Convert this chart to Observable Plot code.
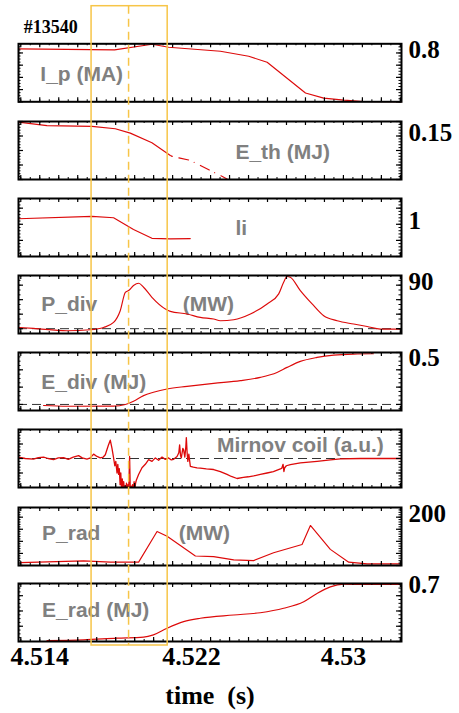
<!DOCTYPE html>
<html><head><meta charset="utf-8">
<script src="https://cdn.jsdelivr.net/npm/d3@7"></script>
<script src="https://cdn.jsdelivr.net/npm/@observablehq/plot@0.6"></script>
<style>
body{margin:0;background:#fff}
#fig{position:relative;width:459px;height:713px;overflow:hidden;background:#fff}
#fig svg{position:absolute;left:0;background:transparent !important;overflow:visible}
</style></head><body><div id="fig"></div>
<script>
// ---------- data ----------
const shot = "#13540";
const xAxisTitle = "time  (s)";
const xDomain = [4.51288, 4.53306];
const xTickValues = [4.514, 4.522, 4.530];
const xTickLabels = ["4.514", "4.522", "4.53"];
const boxTimes = [4.51673, 4.52074];
const boxMid = 4.51868;

const ipTime  = [4.51288, 4.51794, 4.51992, 4.52079, 4.52352, 4.52501, 4.52598, 4.52800, 4.52896, 4.53002, 4.53107, 4.53306];
const ipValue = [0.868, 0.851, 0.943, 0.894, 0.828, 0.746, 0.647, 0.143, 0.061, 0.028, 0.005, 0.0];

const ethTime  = [4.51288, 4.51438, 4.51675, 4.51798, 4.51877, 4.51991, 4.52088, 4.52097];
const ethValue = [0.198, 0.186, 0.183, 0.175, 0.160, 0.127, 0.083, 0.080];
const ethDashTime  = [4.52097, 4.52193, 4.52387];
const ethDashValue = [0.080, 0.066, 0.002];

const liTime  = [4.51288, 4.51675, 4.51789, 4.51894, 4.51991, 4.52088, 4.52193];
const liValue = [1.086, 1.122, 1.102, 0.919, 0.782, 0.773, 0.778];

const pdivTime  = [4.51288, 4.51367, 4.51543, 4.51666, 4.51736, 4.51789, 4.51824, 4.51851, 4.51868, 4.51894, 4.51921, 4.51947, 4.51991, 4.52062, 4.52088, 4.52176, 4.52246, 4.52316, 4.52352, 4.52422, 4.52510, 4.52598, 4.52659, 4.52685, 4.52703, 4.52720, 4.52773, 4.52835, 4.52896, 4.52967, 4.53054, 4.53125, 4.53195, 4.53300];
const pdivValue = [2.5, 0.5, -4.4, -2.3, 2.5, 12.9, 37.2, 75.3, 78.8, 89.2, 94, 85.7, 64.9, 40.8, 35.8, 30.4, 23.3, 20, 16.4, 18.5, 30.4, 51.2, 72, 96.1, 108, 106.5, 78.8, 51.2, 26.8, 16.4, 9.6, 4.6, -0.8, -0.8];

const edivTime  = [4.51420, 4.51543, 4.51789, 4.51851, 4.51894, 4.51947, 4.51999, 4.52071, 4.52176, 4.52316, 4.52457, 4.52562, 4.52650, 4.52703, 4.52773, 4.52861, 4.52949, 4.53054, 4.53158];
const edivValue = [-0.012, -0.021, -0.020, -0.001, 0.037, 0.102, 0.140, 0.179, 0.209, 0.244, 0.275, 0.313, 0.370, 0.428, 0.497, 0.543, 0.570, 0.582, 0.585];

const mirTime = [4.512882, 4.513236, 4.513673, 4.513921, 4.514200, 4.514448, 4.514727, 4.514975, 4.515255, 4.515502,
  4.515766, 4.516045, 4.516240, 4.516488, 4.516662, 4.516836, 4.517015, 4.517189, 4.517347, 4.517453,
  4.517611, 4.517716, 4.517806, 4.517890, 4.517954, 4.518006, 4.518070, 4.518112, 4.518154, 4.518191,
  4.518233, 4.518270, 4.518307, 4.518349, 4.518386, 4.518423, 4.518460, 4.518497, 4.518534, 4.518570,
  4.518613, 4.518650, 4.518686, 4.518734, 4.518771, 4.518813, 4.518850, 4.518887, 4.518929, 4.518971,
  4.519008, 4.519050, 4.519087, 4.519208, 4.519387, 4.519561, 4.519735, 4.519915, 4.520089, 4.520263,
  4.520442, 4.520616, 4.520790, 4.520932, 4.521053, 4.521233, 4.521327, 4.521370, 4.521417, 4.521459,
  4.521538, 4.521580, 4.521644, 4.521696, 4.521723, 4.521765, 4.521802, 4.521855, 4.521934, 4.522092,
  4.522287, 4.522461, 4.522777, 4.523162, 4.523515, 4.523868, 4.524095, 4.524395, 4.524728, 4.524991,
  4.525271, 4.525624, 4.525977, 4.526309, 4.526678, 4.526757, 4.526820, 4.526863, 4.526905, 4.526994,
  4.527205, 4.527732, 4.528613, 4.529314, 4.529841, 4.530895, 4.531950, 4.533004];
const mirValue = [0.05, 0.0, -0.02, 0.03, 0.05, 0.0, -0.04, 0.02, 0.03, -0.03,
  0.05, 0.10, 0.02, -0.02, 0.02, 0.15, 0.07, 0.02, 0.05, 0.13,
  0.45, 0.63, 0.35, 0.02, -0.25, -0.10, -0.50, -0.20, -0.55, -0.35,
  -0.90, -0.50, -1.05, -0.70, -1.10, -0.80, -1.10, -0.95, -1.10, -0.85,
  -1.10, -0.90, -1.10, 0.07, -1.10, -0.95, -1.10, -0.90, -1.10, -0.80,
  -1.05, -0.85, -0.75, -0.55, -0.32, -0.20, -0.04, -0.10, 0.02, -0.06,
  0.05, -0.03, 0.02, -0.05, -0.03, 0.07, 0.20, 0.47, 0.10, 0.02,
  0.35, 0.30, 0.05, 0.40, 0.72, 0.20, -0.10, 0.15, -0.27, -0.30,
  -0.32, -0.33, -0.36, -0.38, -0.45, -0.55, -0.62, -0.69, -0.65, -0.63,
  -0.60, -0.55, -0.50, -0.45, -0.36, -0.33, -0.20, -0.45, -0.32, -0.25,
  -0.21, -0.15, -0.10, -0.05, -0.01, 0.0, 0.0, 0.0];

const pradTime  = [4.51297, 4.51631, 4.51772, 4.51921, 4.52018, 4.52071, 4.52220, 4.52316, 4.52422, 4.52527, 4.52632, 4.52782, 4.52826, 4.52931, 4.53028, 4.53125, 4.53300];
const pradValue = [12.2, 19.1, 13.8, 13.8, 141, 121, 39.5, 36.6, 23.2, 20.3, 52.9, 87, 165.6, 66.7, 13.8, 6.9, 6.9];

const eradTime  = [4.51438, 4.51631, 4.51807, 4.51947, 4.51999, 4.52071, 4.52158, 4.52246, 4.52422, 4.52562, 4.52685, 4.52791, 4.52861, 4.52931, 4.53001, 4.53125, 4.53300];
const eradValue = [0.013, 0.022, 0.044, 0.057, 0.087, 0.174, 0.260, 0.305, 0.347, 0.377, 0.435, 0.521, 0.630, 0.716, 0.751, 0.747, 0.747];

// panel labels: [text, time, value]
const ipLabels   = [["I_p (MA)", 4.51403, 0.346]];
const ethLabels  = [["E_th (MJ)", 4.52431, 0.0714]];
const liLabels   = [["li", 4.52431, 0.836]];
const pdivLabels = [["P_div", 4.51408, 37.2], ["(MW)", 4.52153, 37.2]];
const edivLabels = [["E_div (MJ)", 4.51408, 0.179]];
const mirLabels  = [["Mirnov coil (a.u.)", 4.52334, 0.24]];
const pradLabels = [["P_rad", 4.51412, 104.5], ["(MW)", 4.52132, 104.5]];
const eradLabels = [["E_rad (MJ)", 4.51412, 0.325]];

// ---------- layout ----------
const W = 459, ML = 18, MR = 58, FH = 58;
const RED = "#dd0a0a", GOLD = "#f7c548", GRAY = "#808080";
const SERIF = "Liberation Serif, Times New Roman, serif";
const SANS = "Liberation Sans, Arial, sans-serif";
const fig = document.getElementById("fig");

function stepTicks(domain, step) {
  const out = [];
  const n0 = Math.ceil(domain[0] / step - 1e-9), n1 = Math.floor(domain[1] / step + 1e-9);
  for (let i = n0; i <= n1; i++) out.push(+(i * step).toFixed(6));
  return out;
}
function redLine(T, V, opts = {}) {
  return Plot.line(T, {x: T, y: V, stroke: RED, strokeWidth: 1.15, ...opts});
}
function grayText(labels) {
  return Plot.text(labels, {x: d => d[1], y: d => d[2], text: d => d[0], textAnchor: "start", lineAnchor: "bottom",
    fill: GRAY, fontSize: 21, fontWeight: "bold", fontFamily: SANS});
}

function panel({top, yDomain, major, minor, yTick, marks, mt = 14, mb = 8, extra = [], xAxisNull = true}) {
  const fw = W - ML - MR;
  const xMaj = stepTicks(xDomain, 0.001), xMin = stepTicks(xDomain, 0.0005);
  const yMaj = stepTicks(yDomain, major), yMin = stepTicks(yDomain, minor);
  const all = [
    ...marks,
    Plot.ruleX(xMin, {x: d => d, insetBottom: FH - 2, stroke: "#000"}),
    Plot.ruleX(xMin, {x: d => d, insetTop: FH - 2, stroke: "#000"}),
    Plot.ruleX(xMaj, {x: d => d, insetBottom: FH - 4, stroke: "#000", strokeWidth: 1.2}),
    Plot.ruleX(xMaj, {x: d => d, insetTop: FH - 4, stroke: "#000", strokeWidth: 1.2}),
    Plot.ruleY(yMin, {y: d => d, insetRight: fw - 2.5, stroke: "#000"}),
    Plot.ruleY(yMin, {y: d => d, insetLeft: fw - 2.5, stroke: "#000"}),
    Plot.ruleY(yMaj, {y: d => d, insetRight: fw - 5, stroke: "#000", strokeWidth: 1.2}),
    Plot.ruleY(yMaj, {y: d => d, insetLeft: fw - 5, stroke: "#000", strokeWidth: 1.2}),
    Plot.frame({stroke: "#000", strokeWidth: 2})
  ];
  if (yTick) all.push(Plot.axisY({anchor: "right", ticks: [yTick[0]], tickFormat: () => yTick[1], tickSize: 0, tickPadding: 7,
    label: null, fontSize: 25, fontWeight: "bold", fontFamily: SERIF, fill: "#000", dy: -3}));
  all.push(...extra);
  const p = Plot.plot({
    width: W, height: mt + FH + mb, marginLeft: ML, marginRight: MR, marginTop: mt, marginBottom: mb,
    x: xAxisNull ? {domain: xDomain, axis: null} : {domain: xDomain},
    y: {domain: yDomain, axis: null},
    style: {background: "transparent", overflow: "visible"},
    marks: all
  });
  p.style.position = "absolute";
  p.style.left = "0px";
  p.style.top = (top - mt) + "px";
  fig.appendChild(p);
}

const zeroDash = () => Plot.ruleY([0], {stroke: "#333", strokeWidth: 1, strokeDasharray: "9,5"});

// I_p
panel({top: 43.3, mt: 43.3, yDomain: [0, 0.95], major: 0.2, minor: 0.05, yTick: [0.8, "0.8"],
  marks: [grayText(ipLabels), redLine(ipTime, ipValue)],
  extra: [Plot.text([shot], {frameAnchor: "top-left", textAnchor: "start", lineAnchor: "bottom", dx: 5.3, dy: -11,
    text: d => d, fontSize: 18, fontWeight: "bold", fontFamily: SERIF, fill: "#000"})]});
// E_th
panel({top: 121, yDomain: [0, 0.2], major: 0.05, minor: 0.01, yTick: [0.15, "0.15"],
  marks: [grayText(ethLabels), redLine(ethTime, ethValue), redLine(ethDashTime, ethDashValue, {strokeDasharray: "0,7,10,6"})]});
// li
panel({top: 198.3, yDomain: [0.5, 1.4], major: 0.25, minor: 0.05, yTick: [1, "1"],
  marks: [grayText(liLabels), redLine(liTime, liValue)]});
// P_div
panel({top: 275, yDomain: [-10, 110], major: 30, minor: 10, yTick: [90, "90"],
  marks: [zeroDash(), grayText(pdivLabels), redLine(pdivTime, pdivValue, {curve: "monotone-x"})]});
// E_div
panel({top: 351.7, yDomain: [-0.07, 0.6], major: 0.2, minor: 0.05, yTick: [0.5, "0.5"],
  marks: [zeroDash(), grayText(edivLabels), redLine(edivTime, edivValue, {curve: "monotone-x"})]});
// Mirnov
panel({top: 429.3, yDomain: [-1, 1], major: 0.5, minor: 0.1, yTick: null,
  marks: [zeroDash(), grayText(mirLabels), redLine(mirTime, mirValue, {clip: true, strokeWidth: 1.3})]});
// P_rad
panel({top: 506.7, yDomain: [0, 240], major: 50, minor: 10, yTick: [200, "200"],
  marks: [grayText(pradLabels), redLine(pradTime, pradValue)]});
// E_rad
panel({top: 583.3, mb: 713 - 583.3 - FH, yDomain: [0, 0.76], major: 0.2, minor: 0.05, yTick: [0.7, "0.7"], xAxisNull: false,
  marks: [grayText(eradLabels), redLine(eradTime, eradValue, {curve: "monotone-x"})],
  extra: [
    Plot.axisX({anchor: "bottom", ticks: xTickValues, tickFormat: d => xTickLabels[xTickValues.indexOf(d)], tickSize: 0, tickPadding: 5,
      label: null, fontSize: 26, fontWeight: "bold", fontFamily: SERIF, fill: "#000"}),
    Plot.text([xAxisTitle], {frameAnchor: "bottom", lineAnchor: "bottom", dy: 62.3, text: d => d,
      fontSize: 26, fontWeight: "bold", fontFamily: SERIF, fill: "#000"})
  ]});

// yellow time window across all panels
const ov = Plot.plot({
  width: W, height: 713, marginLeft: ML, marginRight: MR, marginTop: 5.7, marginBottom: 713 - 645,
  x: {domain: xDomain, axis: null},
  style: {background: "transparent", overflow: "visible"},
  marks: [
    Plot.rect([boxTimes], {x1: d => d[0], x2: d => d[1], fill: "none", stroke: GOLD, strokeWidth: 1.5}),
    Plot.ruleX([boxMid], {x: d => d, stroke: GOLD, strokeWidth: 1.5, strokeDasharray: "8,5"})
  ]
});
ov.style.position = "absolute";
ov.style.left = "0px";
ov.style.top = "0px";
ov.style.pointerEvents = "none";
fig.appendChild(ov);
</script>
</body></html>
